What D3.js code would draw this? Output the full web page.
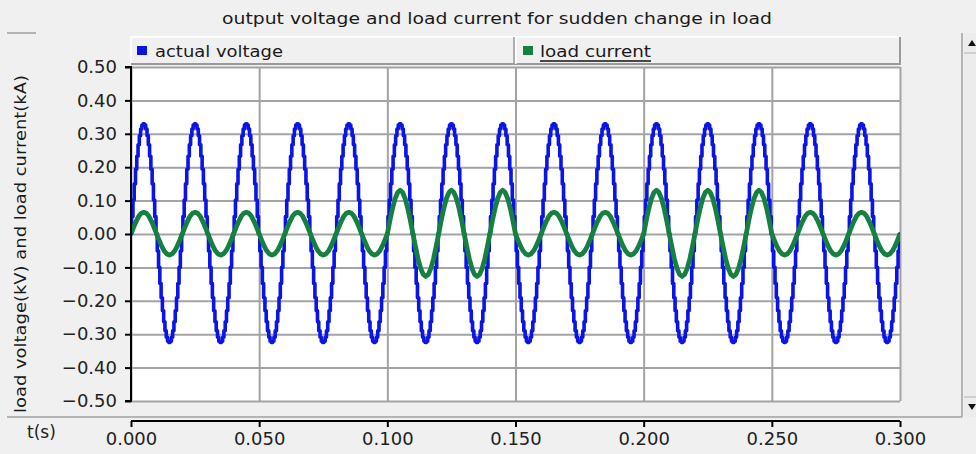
<!DOCTYPE html>
<html>
<head>
<meta charset="utf-8">
<script src="https://cdn.jsdelivr.net/npm/d3@7"></script>
<style>
  html, body { margin: 0; padding: 0; background: #f0f0f0; }
  svg { display: block; }
</style>
</head>
<body>
<svg id="chart" width="976" height="454"></svg>
<script>
// ---- data ----
const chartTitle = "output voltage and load current for sudden change in load";
const seriesNames = ["actual voltage", "load current"];
const timeTicks = [0.000, 0.050, 0.100, 0.150, 0.200, 0.250, 0.300];
const valueTicks = [-0.50, -0.40, -0.30, -0.20, -0.10, 0.00, 0.10, 0.20, 0.30, 0.40, 0.50];

// run length (s) and sampling intervals of the recorded waveforms (s)
const runEnd = 0.300;
const voltageStep = 0.0005;
const currentStep = 0.001;

// one 20 ms cycle of the output voltage, 0.5 ms samples (kV)
const voltageCycle = [
   0.000,  0.052,  0.102,  0.150,  0.194,  0.233,  0.267,  0.294,  0.314,  0.326,
   0.330,  0.326,  0.314,  0.294,  0.267,  0.233,  0.194,  0.150,  0.102,  0.052,
   0.000, -0.051, -0.100, -0.148, -0.191, -0.230, -0.263, -0.290, -0.309, -0.321,
  -0.325, -0.321, -0.309, -0.290, -0.263, -0.230, -0.191, -0.148, -0.100, -0.051];

// one 20 ms cycle of the load current, 1 ms samples (kA)
const currentCycleNormal = [0.000, 0.020, 0.038, 0.053, 0.062, 0.065, 0.062, 0.053, 0.038, 0.020,
                            0.000, -0.019, -0.037, -0.051, -0.060, -0.063, -0.060, -0.051, -0.037, -0.019];
const currentCycleHeavy  = [0.000, 0.040, 0.076, 0.105, 0.124, 0.131, 0.124, 0.105, 0.076, 0.040,
                            0.000, -0.039, -0.075, -0.103, -0.121, -0.127, -0.121, -0.103, -0.075, -0.039];

// load steps applied during the run
const loadStarts = [0.000, 0.100, 0.150, 0.200, 0.250];
const loadLevels = ["normal", "heavy", "normal", "heavy", "normal"];

// ---- build the sampled series ----
function loadAt(t) {
  let lvl = loadLevels[0];
  loadStarts.forEach((s, i) => { if (t >= s - 1e-9) lvl = loadLevels[i]; });
  return lvl;
}
const voltageSeries = [];
const nV = Math.round(runEnd / voltageStep);
for (let i = 0; i <= nV; i++) {
  voltageSeries.push({ t: i * voltageStep, v: voltageCycle[i % voltageCycle.length] });
}
const currentSeries = [];
const nC = Math.round(runEnd / currentStep);
for (let i = 0; i <= nC; i++) {
  const t = i * currentStep;
  const cyc = loadAt(t) === "heavy" ? currentCycleHeavy : currentCycleNormal;
  currentSeries.push({ t, v: cyc[i % cyc.length] });
}

// ---- layout ----
const svg = d3.select("#chart");
const plot = { left: 131, right: 900, top: 67, bottom: 401 };
const x = d3.scaleLinear().domain([0, 0.3]).range([plot.left, plot.right]);
const y = d3.scaleLinear().domain([-0.5, 0.5]).range([plot.bottom, plot.top]);

const gridGray = "#a3a3a3";
const fontMain = "'DejaVu Sans', Verdana, sans-serif";

// window frame
svg.append("rect").attr("width", 976).attr("height", 454).attr("fill", "#f0f0f0");
svg.append("line").attr("x1", 7).attr("x2", 36).attr("y1", 33).attr("y2", 33)
  .attr("stroke", "#a0a0a0").attr("stroke-width", 1.5);
svg.append("line").attr("x1", 7).attr("x2", 962).attr("y1", 417).attr("y2", 417)
  .attr("stroke", "#a0a0a0").attr("stroke-width", 1.5);
svg.append("line").attr("x1", 962).attr("x2", 962).attr("y1", 33).attr("y2", 417)
  .attr("stroke", "#a0a0a0").attr("stroke-width", 1.5);

// scrollbar
const sb = svg.append("g");
sb.append("rect").attr("x", 964).attr("y", 33).attr("width", 12).attr("height", 384).attr("fill", "#ececec");
sb.append("line").attr("x1", 964).attr("x2", 976).attr("y1", 53).attr("y2", 53).attr("stroke", "#b0b0b0");
sb.append("line").attr("x1", 964).attr("x2", 976).attr("y1", 397).attr("y2", 397).attr("stroke", "#b0b0b0");
sb.append("path").attr("d", "M968,46 L976,46 L972,40 Z").attr("fill", "#111");
sb.append("path").attr("d", "M968,404 L976,404 L972,410 Z").attr("fill", "#111");

// title
svg.append("text")
  .attr("x", 497).attr("y", 24)
  .attr("text-anchor", "middle")
  .attr("font-family", fontMain).attr("font-size", 16)
  .attr("fill", "#1a1a1a")
  .attr("textLength", 550).attr("lengthAdjust", "spacingAndGlyphs")
  .text(chartTitle);

// plot background
svg.append("rect")
  .attr("x", plot.left).attr("y", plot.top)
  .attr("width", plot.right - plot.left).attr("height", plot.bottom - plot.top)
  .attr("fill", "#ffffff");

// grid lines
const grid = svg.append("g");
grid.append("g")
  .attr("transform", `translate(0,${plot.bottom})`)
  .call(d3.axisBottom(x).tickValues(timeTicks).tickSize(-(plot.bottom - plot.top)).tickFormat(""))
  .call(g => g.select(".domain").remove())
  .call(g => g.selectAll("line").attr("stroke", gridGray).attr("stroke-width", 2));
grid.append("g")
  .attr("transform", `translate(${plot.left},0)`)
  .call(d3.axisLeft(y).tickValues(valueTicks).tickSize(-(plot.right - plot.left)).tickFormat(""))
  .call(g => g.select(".domain").remove())
  .call(g => g.selectAll("line").attr("stroke", gridGray).attr("stroke-width", 2));

// series
const voltageLine = d3.line().x(d => x(d.t)).y(d => y(d.v)).curve(d3.curveStep);
const currentLine = d3.line().x(d => x(d.t)).y(d => y(d.v)).curve(d3.curveLinear);

svg.append("clipPath").attr("id", "plotClip")
  .append("rect").attr("x", plot.left).attr("y", plot.top - 2)
  .attr("width", plot.right - plot.left).attr("height", plot.bottom - plot.top + 4);

const series = svg.append("g").attr("clip-path", "url(#plotClip)");
series.append("path").datum(voltageSeries)
  .attr("d", voltageLine)
  .attr("fill", "none").attr("stroke", "#0a14e6").attr("stroke-width", 3.6)
  .attr("stroke-linejoin", "round");
series.append("path").datum(currentSeries)
  .attr("d", currentLine)
  .attr("fill", "none").attr("stroke", "#15803f").attr("stroke-width", 4.8)
  .attr("stroke-linejoin", "round");

// left axis
svg.append("g")
  .attr("transform", `translate(${plot.left},0)`)
  .call(d3.axisLeft(y).tickValues(valueTicks).tickSize(6).tickPadding(8).tickFormat(d3.format(".2f")))
  .call(g => g.select(".domain").attr("stroke", "#000").attr("stroke-width", 2)
    .attr("d", `M-6,${plot.top}H0V${plot.bottom}H-6`))
  .call(g => g.selectAll(".tick line").attr("stroke", "#000").attr("stroke-width", 2))
  .call(g => g.selectAll(".tick text")
    .attr("font-family", fontMain).attr("font-size", 18).attr("fill", "#222"));

// bottom axis, drawn below the plot frame
const axisY = 421;
svg.append("g")
  .attr("transform", `translate(0,${axisY})`)
  .call(d3.axisBottom(x).tickValues(timeTicks).tickSize(6).tickPadding(5).tickFormat(d3.format(".3f")))
  .call(g => g.select(".domain").attr("stroke", "#000").attr("stroke-width", 2)
    .attr("d", `M${plot.left},0H${plot.right}`))
  .call(g => g.selectAll(".tick line").attr("stroke", "#000").attr("stroke-width", 2))
  .call(g => g.selectAll(".tick text")
    .attr("font-family", fontMain).attr("font-size", 18).attr("fill", "#222"));

svg.append("text")
  .attr("x", 27).attr("y", 438)
  .attr("font-family", fontMain).attr("font-size", 17).attr("fill", "#222")
  .text("t(s)");

// y-axis title
svg.append("text")
  .attr("transform", `translate(26,244) rotate(-90)`)
  .attr("text-anchor", "middle")
  .attr("font-family", fontMain).attr("font-size", 16).attr("fill", "#1a1a1a")
  .attr("textLength", 338).attr("lengthAdjust", "spacingAndGlyphs")
  .text("load voltage(kV) and load current(kA)");

// legend bar
const legend = svg.append("g");
legend.append("rect").attr("x", 131).attr("y", 37).attr("width", 769).attr("height", 27)
  .attr("fill", "#f0f0f0");
legend.append("path").attr("d", "M131,64 V37 H900").attr("fill", "none").attr("stroke", "#ffffff").attr("stroke-width", 1.5);
legend.append("path").attr("d", "M131,64 H900 V37").attr("fill", "none").attr("stroke", "#9a9a9a").attr("stroke-width", 2);
legend.append("line").attr("x1", 514).attr("x2", 514).attr("y1", 37).attr("y2", 64).attr("stroke", "#9a9a9a").attr("stroke-width", 1.5);
legend.append("line").attr("x1", 516).attr("x2", 516).attr("y1", 37).attr("y2", 64).attr("stroke", "#ffffff").attr("stroke-width", 1.5);

const legendItems = [
  { name: seriesNames[0], color: "#0a14e6", mx: 137, tx: 155, len: 128, underline: false },
  { name: seriesNames[1], color: "#15803f", mx: 523, tx: 540, len: 111, underline: true }
];
legendItems.forEach(it => {
  legend.append("rect").attr("x", it.mx).attr("y", 46).attr("width", 10).attr("height", 9).attr("fill", it.color);
  legend.append("text").attr("x", it.tx).attr("y", 57)
    .attr("font-family", fontMain).attr("font-size", 16).attr("fill", "#1a1a1a")
    .attr("textLength", it.len).attr("lengthAdjust", "spacingAndGlyphs")
    .text(it.name);
  if (it.underline) {
    legend.append("line").attr("x1", it.tx).attr("x2", it.tx + it.len)
      .attr("y1", 61).attr("y2", 61).attr("stroke", "#111").attr("stroke-width", 1.5);
  }
});
</script>
</body>
</html>
